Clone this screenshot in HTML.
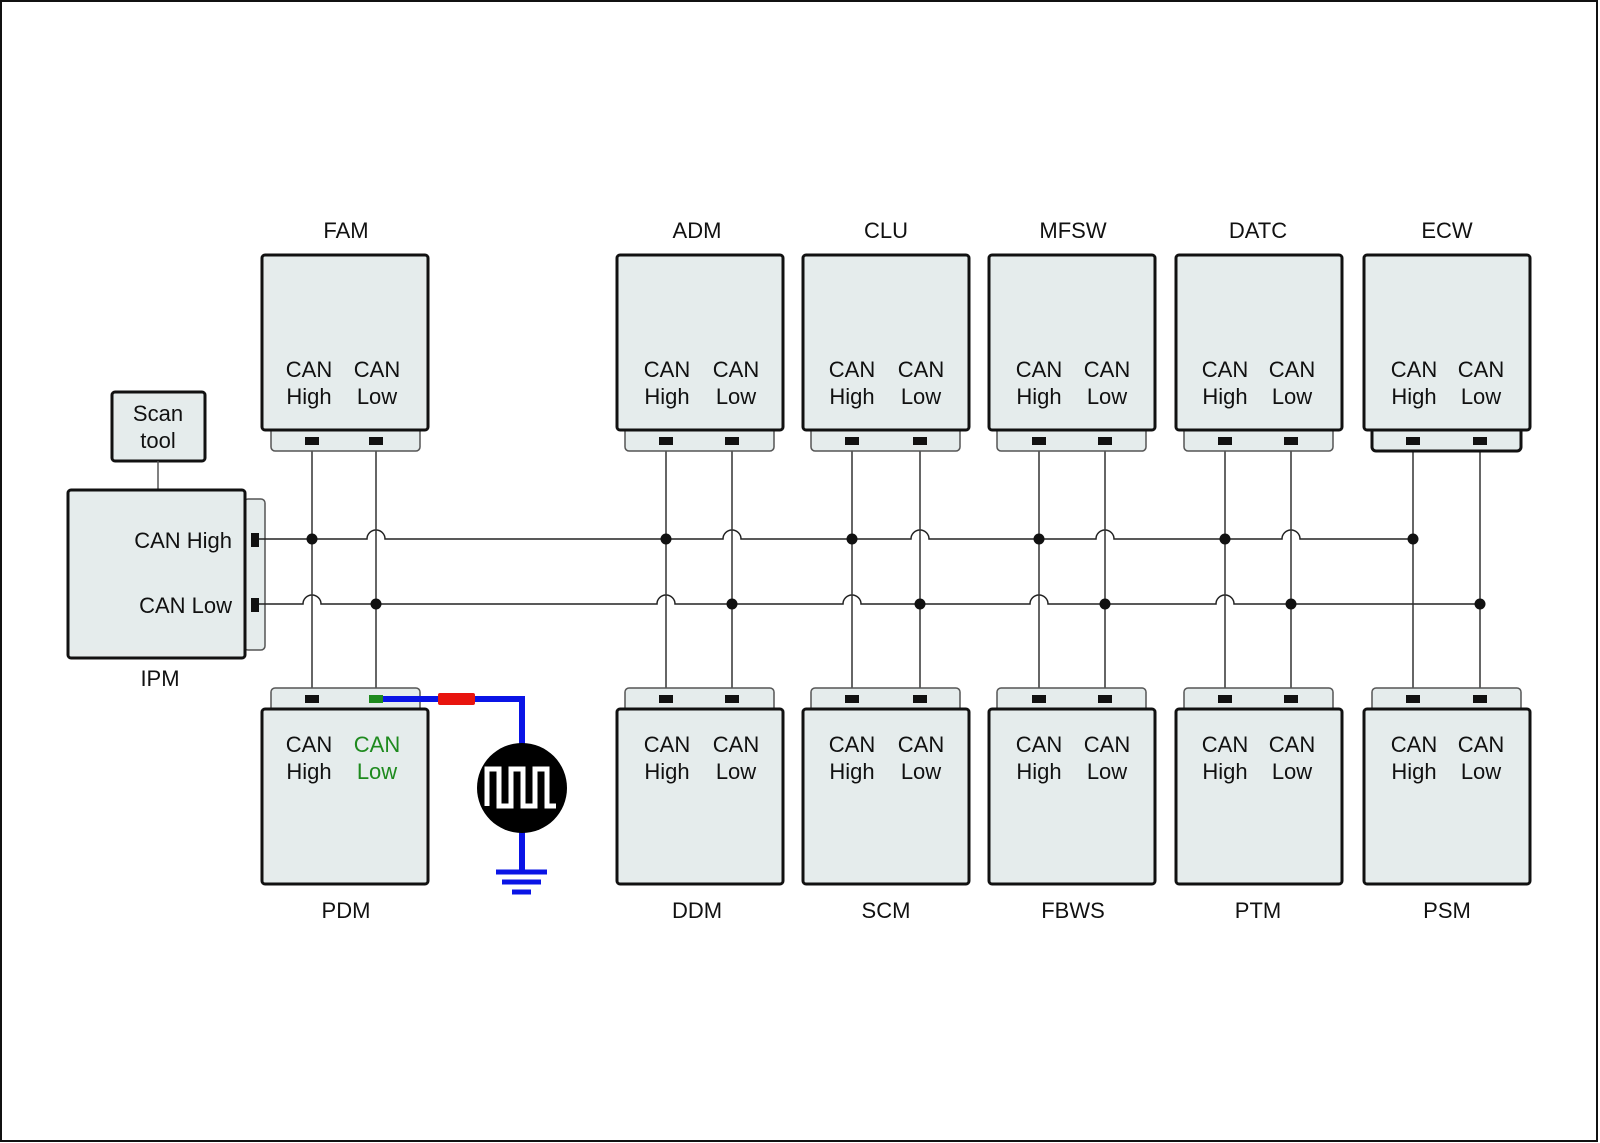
<!DOCTYPE html>
<html><head><meta charset="utf-8"><style>
html,body{margin:0;padding:0;background:#fff}
svg{display:block}
text{font-family:"Liberation Sans",Arial,sans-serif;font-size:22px;fill:#111}
</style></head><body>
<svg width="1600" height="1143" viewBox="0 0 1600 1143" xmlns="http://www.w3.org/2000/svg">
<rect x="1" y="1" width="1596" height="1140" fill="#fff" stroke="#111" stroke-width="2"/>
<g id="d"></g>
<!-- Scan tool -->
<rect x="112" y="392" width="93" height="69" rx="3" fill="#e5ecec" stroke="#111" stroke-width="3"/>
<text x="158" y="421" text-anchor="middle">Scan</text>
<text x="158" y="448" text-anchor="middle">tool</text>
<line x1="158" y1="461" x2="158" y2="490" stroke="#555" stroke-width="1.5"/>
<!-- IPM -->
<rect x="244" y="499" width="21" height="151" rx="4" fill="#e5ecec" stroke="#555" stroke-width="1.5"/>
<rect x="68" y="490" width="177" height="168" rx="3" fill="#e5ecec" stroke="#111" stroke-width="3"/>
<text x="232" y="548" text-anchor="end">CAN High</text>
<text x="232" y="613" text-anchor="end">CAN Low</text>
<text x="160" y="686" text-anchor="middle">IPM</text>
<rect x="251" y="533" width="8" height="14" fill="#111"/>
<rect x="251" y="598" width="8" height="14" fill="#111"/>

<g fill="none" stroke="#222" stroke-width="1.5">
<!-- High bus: hops at low xs -->
<path d="M259 539 H367 a9 9 0 0 1 18 0 H723 a9 9 0 0 1 18 0 H911 a9 9 0 0 1 18 0 H1096 a9 9 0 0 1 18 0 H1282 a9 9 0 0 1 18 0 H1413"/>
<!-- Low bus: hops at high xs -->
<path d="M259 604 H303 a9 9 0 0 1 18 0 H657 a9 9 0 0 1 18 0 H843 a9 9 0 0 1 18 0 H1030 a9 9 0 0 1 18 0 H1216 a9 9 0 0 1 18 0 H1480"/>
</g>
<g stroke="#333" stroke-width="1.5">
<line x1="312" y1="440" x2="312" y2="698"/><line x1="376" y1="440" x2="376" y2="698"/>
<line x1="666" y1="440" x2="666" y2="698"/><line x1="732" y1="440" x2="732" y2="698"/>
<line x1="852" y1="440" x2="852" y2="698"/><line x1="920" y1="440" x2="920" y2="698"/>
<line x1="1039" y1="440" x2="1039" y2="698"/><line x1="1105" y1="440" x2="1105" y2="698"/>
<line x1="1225" y1="440" x2="1225" y2="698"/><line x1="1291" y1="440" x2="1291" y2="698"/>
<line x1="1413" y1="440" x2="1413" y2="698"/><line x1="1480" y1="440" x2="1480" y2="698"/>
</g>
<g fill="#111">
<circle cx="312" cy="539" r="5.5"/><circle cx="376" cy="604" r="5.5"/>
<circle cx="666" cy="539" r="5.5"/><circle cx="732" cy="604" r="5.5"/>
<circle cx="852" cy="539" r="5.5"/><circle cx="920" cy="604" r="5.5"/>
<circle cx="1039" cy="539" r="5.5"/><circle cx="1105" cy="604" r="5.5"/>
<circle cx="1225" cy="539" r="5.5"/><circle cx="1291" cy="604" r="5.5"/>
<circle cx="1413" cy="539" r="5.5"/><circle cx="1480" cy="604" r="5.5"/>
</g>

<!-- Top modules -->
<g id="top">
<!-- FAM -->
<rect x="271" y="425" width="149" height="26" rx="4" fill="#e5ecec" stroke="#555" stroke-width="1.5"/>
<rect x="262" y="255" width="166" height="175" rx="3" fill="#e5ecec" stroke="#111" stroke-width="3"/>
<rect x="625" y="425" width="149" height="26" rx="4" fill="#e5ecec" stroke="#555" stroke-width="1.5"/>
<rect x="617" y="255" width="166" height="175" rx="3" fill="#e5ecec" stroke="#111" stroke-width="3"/>
<rect x="811" y="425" width="149" height="26" rx="4" fill="#e5ecec" stroke="#555" stroke-width="1.5"/>
<rect x="803" y="255" width="166" height="175" rx="3" fill="#e5ecec" stroke="#111" stroke-width="3"/>
<rect x="997" y="425" width="149" height="26" rx="4" fill="#e5ecec" stroke="#555" stroke-width="1.5"/>
<rect x="989" y="255" width="166" height="175" rx="3" fill="#e5ecec" stroke="#111" stroke-width="3"/>
<rect x="1184" y="425" width="149" height="26" rx="4" fill="#e5ecec" stroke="#555" stroke-width="1.5"/>
<rect x="1176" y="255" width="166" height="175" rx="3" fill="#e5ecec" stroke="#111" stroke-width="3"/>
<rect x="1372" y="425" width="149" height="26" rx="4" fill="#e5ecec" stroke="#111" stroke-width="3"/>
<rect x="1364" y="255" width="166" height="175" rx="3" fill="#e5ecec" stroke="#111" stroke-width="3"/>
</g>
<!-- Bottom modules -->
<g>
<rect x="271" y="688" width="149" height="26" rx="4" fill="#e5ecec" stroke="#555" stroke-width="1.5"/>
<rect x="262" y="709" width="166" height="175" rx="3" fill="#e5ecec" stroke="#111" stroke-width="3"/>
<rect x="625" y="688" width="149" height="26" rx="4" fill="#e5ecec" stroke="#555" stroke-width="1.5"/>
<rect x="617" y="709" width="166" height="175" rx="3" fill="#e5ecec" stroke="#111" stroke-width="3"/>
<rect x="811" y="688" width="149" height="26" rx="4" fill="#e5ecec" stroke="#555" stroke-width="1.5"/>
<rect x="803" y="709" width="166" height="175" rx="3" fill="#e5ecec" stroke="#111" stroke-width="3"/>
<rect x="997" y="688" width="149" height="26" rx="4" fill="#e5ecec" stroke="#555" stroke-width="1.5"/>
<rect x="989" y="709" width="166" height="175" rx="3" fill="#e5ecec" stroke="#111" stroke-width="3"/>
<rect x="1184" y="688" width="149" height="26" rx="4" fill="#e5ecec" stroke="#555" stroke-width="1.5"/>
<rect x="1176" y="709" width="166" height="175" rx="3" fill="#e5ecec" stroke="#111" stroke-width="3"/>
<rect x="1372" y="688" width="149" height="26" rx="4" fill="#e5ecec" stroke="#555" stroke-width="1.5"/>
<rect x="1364" y="709" width="166" height="175" rx="3" fill="#e5ecec" stroke="#111" stroke-width="3"/>
</g>
<!-- connector blocks -->
<g fill="#111">
<rect x="305" y="437" width="14" height="8"/><rect x="369" y="437" width="14" height="8"/>
<rect x="659" y="437" width="14" height="8"/><rect x="725" y="437" width="14" height="8"/>
<rect x="845" y="437" width="14" height="8"/><rect x="913" y="437" width="14" height="8"/>
<rect x="1032" y="437" width="14" height="8"/><rect x="1098" y="437" width="14" height="8"/>
<rect x="1218" y="437" width="14" height="8"/><rect x="1284" y="437" width="14" height="8"/>
<rect x="1406" y="437" width="14" height="8"/><rect x="1473" y="437" width="14" height="8"/>
<rect x="305" y="695" width="14" height="8"/>
<rect x="659" y="695" width="14" height="8"/><rect x="725" y="695" width="14" height="8"/>
<rect x="845" y="695" width="14" height="8"/><rect x="913" y="695" width="14" height="8"/>
<rect x="1032" y="695" width="14" height="8"/><rect x="1098" y="695" width="14" height="8"/>
<rect x="1218" y="695" width="14" height="8"/><rect x="1284" y="695" width="14" height="8"/>
<rect x="1406" y="695" width="14" height="8"/><rect x="1473" y="695" width="14" height="8"/>
</g>
<!-- generator wiring -->
<path d="M376 699 H522 V870" fill="none" stroke="#0a14e6" stroke-width="6"/>
<rect x="438" y="693" width="37" height="12" rx="2" fill="#e8140e"/>
<rect x="369" y="695" width="14" height="8" fill="#1e8a1e"/>
<circle cx="522" cy="788" r="45" fill="#000"/>
<path d="M487 806 V769 H499 V806 H511 V769 H523 V806 H535 V769 H547 V806 H556" fill="none" stroke="#fff" stroke-width="5"/>
<path d="M487 806 V769 H499 V806 H511 V769 H523 V806 H535 V769 H547 V806" fill="none" stroke="#000" stroke-width="0"/>
<g stroke="#0a14e6" stroke-width="5">
<line x1="496" y1="872" x2="547" y2="872"/><line x1="502" y1="882" x2="541" y2="882"/><line x1="512" y1="892" x2="531" y2="892"/>
</g>

<!-- labels -->
<g text-anchor="middle">
<text x="346" y="238">FAM</text><text x="697" y="238">ADM</text><text x="886" y="238">CLU</text>
<text x="1073" y="238">MFSW</text><text x="1258" y="238">DATC</text><text x="1447" y="238">ECW</text>
<text x="346" y="918">PDM</text><text x="697" y="918">DDM</text><text x="886" y="918">SCM</text>
<text x="1073" y="918">FBWS</text><text x="1258" y="918">PTM</text><text x="1447" y="918">PSM</text>

<text x="309" y="377">CAN</text><text x="377" y="377">CAN</text><text x="309" y="404">High</text><text x="377" y="404">Low</text>
<text x="667" y="377">CAN</text><text x="736" y="377">CAN</text><text x="667" y="404">High</text><text x="736" y="404">Low</text>
<text x="852" y="377">CAN</text><text x="921" y="377">CAN</text><text x="852" y="404">High</text><text x="921" y="404">Low</text>
<text x="1039" y="377">CAN</text><text x="1107" y="377">CAN</text><text x="1039" y="404">High</text><text x="1107" y="404">Low</text>
<text x="1225" y="377">CAN</text><text x="1292" y="377">CAN</text><text x="1225" y="404">High</text><text x="1292" y="404">Low</text>
<text x="1414" y="377">CAN</text><text x="1481" y="377">CAN</text><text x="1414" y="404">High</text><text x="1481" y="404">Low</text>

<text x="309" y="752">CAN</text><text x="377" y="752" style="fill:#1e8a1e">CAN</text><text x="309" y="779">High</text><text x="377" y="779" style="fill:#1e8a1e">Low</text>
<text x="667" y="752">CAN</text><text x="736" y="752">CAN</text><text x="667" y="779">High</text><text x="736" y="779">Low</text>
<text x="852" y="752">CAN</text><text x="921" y="752">CAN</text><text x="852" y="779">High</text><text x="921" y="779">Low</text>
<text x="1039" y="752">CAN</text><text x="1107" y="752">CAN</text><text x="1039" y="779">High</text><text x="1107" y="779">Low</text>
<text x="1225" y="752">CAN</text><text x="1292" y="752">CAN</text><text x="1225" y="779">High</text><text x="1292" y="779">Low</text>
<text x="1414" y="752">CAN</text><text x="1481" y="752">CAN</text><text x="1414" y="779">High</text><text x="1481" y="779">Low</text>
</g>
</svg>
</body></html>
